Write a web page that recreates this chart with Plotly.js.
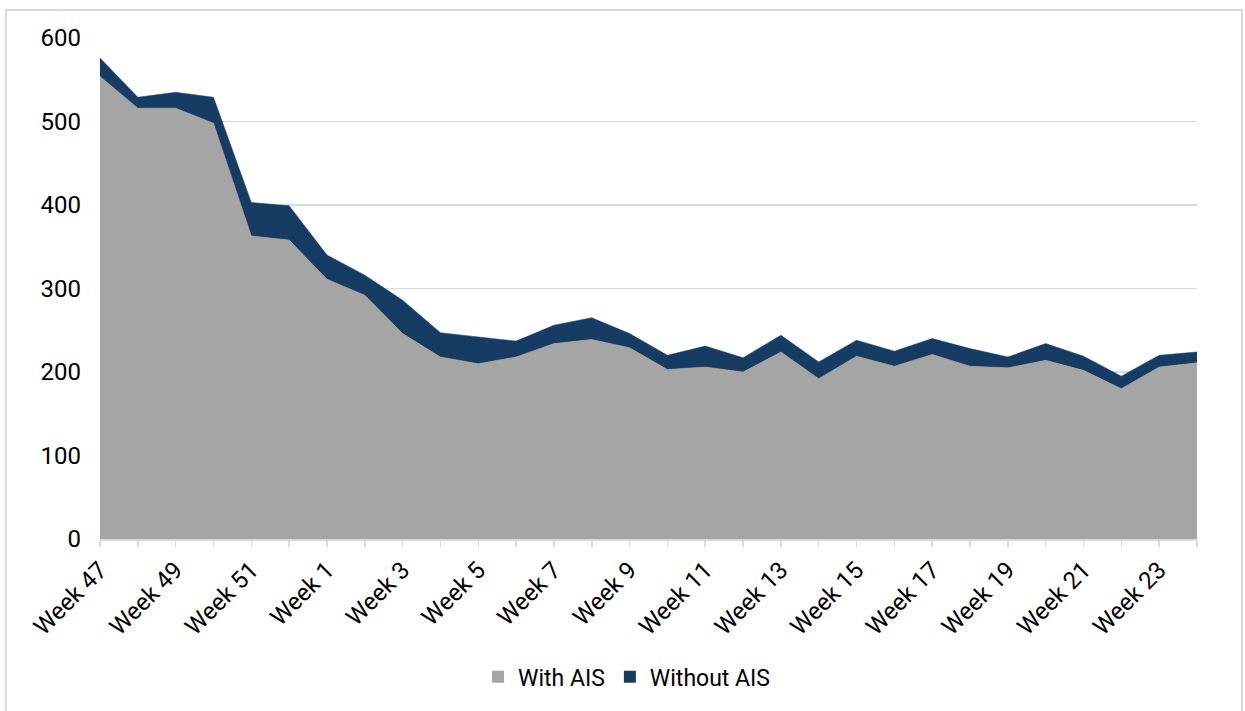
<!DOCTYPE html>
<html>
<head>
<meta charset="utf-8">
<script src="https://cdn.plot.ly/plotly-3.0.1.min.js"></script>
<style>
  html, body { margin: 0; padding: 0; background: #fff; }
  #frame { position: absolute; left: 5px; top: 9px; width: 1238px; height: 720px; border: 2px solid #D9D9D9; pointer-events: none; box-sizing: border-box; }
  #chart { position: absolute; left: 0; top: 0; width: 1245px; height: 711px; }
</style>
</head>
<body>
<div id="chart"></div>
<div id="frame"></div>
<script>
const weeks = ["Week 47","Week 48","Week 49","Week 50","Week 51","Week 52",
  "Week 1","Week 2","Week 3","Week 4","Week 5","Week 6","Week 7","Week 8","Week 9",
  "Week 10","Week 11","Week 12","Week 13","Week 14","Week 15","Week 16","Week 17",
  "Week 18","Week 19","Week 20","Week 21","Week 22","Week 23","Week 24"];
const withAIS = [554,516,516,498,363,358,311,292,246,218,210,218,234,239,229,
  203,206,200,224,192,219,207,221,207,205,214,202,180,206,211];
const withoutAIS = [22,13,19,31,40,41,29,24,40,29,32,19,22,26,17,
  17,25,17,20,20,19,18,19,21,13,20,17,15,14,13];
const tickLabels = weeks.map((w, i) => (i % 2 === 0 ? w : ""));

const grey = "#A5A5A5";
const navy = "#173C63";

const traces = [
  { x: weeks, y: withAIS, type: "scatter", mode: "lines", stackgroup: "one",
    line: { width: 0.5, color: grey }, fillcolor: grey, showlegend: false, hoverinfo: "skip" },
  { x: weeks, y: withoutAIS, type: "scatter", mode: "lines", stackgroup: "one",
    line: { width: 0.5, color: navy }, fillcolor: navy, showlegend: false, hoverinfo: "skip" },
  { x: [null], y: [null], type: "bar", name: "With AIS", marker: { color: grey } },
  { x: [null], y: [null], type: "bar", name: "Without AIS", marker: { color: navy } }
];

const layout = {
  width: 1245, height: 711,
  margin: { l: 100, r: 48, t: 38, b: 172 },
  paper_bgcolor: "#ffffff", plot_bgcolor: "#ffffff",
  font: { family: "Roboto, sans-serif", size: 23, color: "#000000" },
  xaxis: {
    type: "category", categoryorder: "array", categoryarray: weeks,
    range: [0, weeks.length - 1],
    tickmode: "array", tickvals: weeks, ticktext: tickLabels,
    tickangle: -45, ticks: "outside", ticklen: 6, tickcolor: "#D9D9D9", tickwidth: 1.5,
    showline: true, linecolor: "#D9D9D9", linewidth: 1.5,
    showgrid: false, zeroline: false, fixedrange: true,
    tickfont: { size: 24, color: "#000000" }
  },
  yaxis: {
    range: [0, 600], dtick: 100, tick0: 0,
    showgrid: true, gridcolor: "#D9D9D9", gridwidth: 1.5,
    zeroline: false, showline: false, ticks: "",
    ticklabelstandoff: 18, fixedrange: true,
    tickfont: { size: 24, color: "#000000" }
  },
  legend: {
    orientation: "h", x: 0.48, xanchor: "center", y: -0.275, yanchor: "middle",
    font: { size: 23, color: "#000000" }, itemwidth: 30, traceorder: "normal"
  },
  showlegend: true
};

Plotly.newPlot("chart", traces, layout, { displayModeBar: false, staticPlot: true });
</script>
</body>
</html>
